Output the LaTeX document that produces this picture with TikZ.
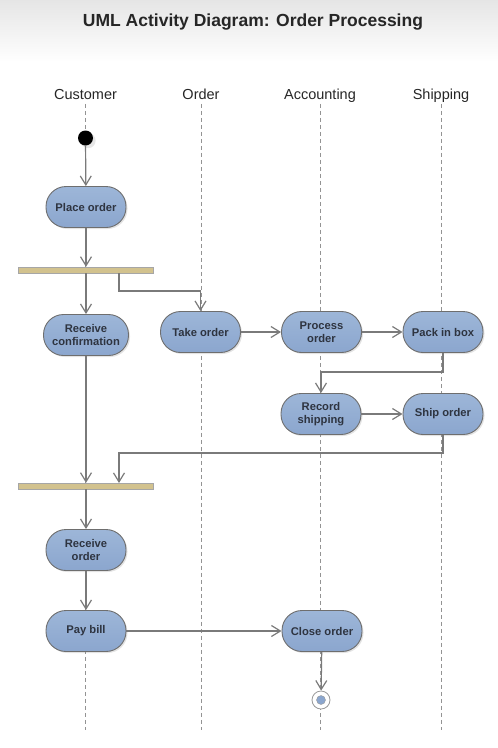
\documentclass[tikz,border=0pt]{standalone}
\usepackage{fontspec}
\setmainfont{Liberation Sans}
\usepackage{tikz}
\usetikzlibrary{arrows.meta, positioning, shadows, calc}
\definecolor{actblue}{RGB}{139, 166, 206}
\definecolor{actbluetop}{RGB}{157, 182, 216}
\definecolor{actedge}{RGB}{110, 110, 110}
\definecolor{flowgray}{RGB}{122, 122, 122}
\definecolor{bartan}{RGB}{210, 194, 142}
\definecolor{textdark}{RGB}{46, 52, 64}

\tikzset{
    action/.style={draw=actedge, line width=0.9pt, top color=actbluetop, bottom color=actblue,
        rounded corners=20pt, minimum width=80pt, minimum height=41pt, inner sep=2pt,
        align=center, text=textdark, font=\fontsize{11.2}{12.8}\selectfont\bfseries,
        drop shadow={opacity=0.22, shadow xshift=1.5pt, shadow yshift=-1.5pt}},
    syncbar/.style={draw=gray!70, fill=bartan, minimum width=135pt, minimum height=6pt, inner sep=0pt},
    lanelabel/.style={font=\fontsize{14.5}{16}\selectfont, text=black!85, inner sep=1.5pt,
        text height=10.5pt, text depth=3pt},
    lane/.style={draw=gray!85, line width=0.8pt, dash pattern=on 4pt off 3pt},
    flow/.style={draw=flowgray, line width=1.2pt, -{Straight Barb[length=9pt, width=11pt]}}
}

\begin{document}
\begin{tikzpicture}[x=1pt, y=-1pt]
\useasboundingbox (0,0) rectangle (498,748);
\fill[top color=gray!20, bottom color=white] (0,0) rectangle (498,62);

\node[font=\fontsize{17.5}{20}\selectfont\bfseries, text=black!85] (title) at (253,22) {UML Activity Diagram: Order Processing};

% swimlanes
\node[lanelabel] (customer) at (85.5,95.5) {Customer};
\node[lanelabel] (order) at (201,95.5) {Order};
\node[lanelabel] (accounting) at (320,95.5) {Accounting};
\node[lanelabel] (shipping) at (441,95.5) {Shipping};
\foreach \lanename in {customer, order, accounting, shipping}
    \draw[lane] (\lanename.south) -- (\lanename.south |- 0,730);

% activities
\node[circle, fill=black, minimum size=15pt, inner sep=0pt, drop shadow={opacity=0.2}] (start) at (85.5,138) {};
\node[action] (placeorder) at (86,207) {Place order};
\node[syncbar] (forkbar) at (85.5,270) {};
\node[action, minimum width=85pt] (receiveconf) at (86,335) {Receive\\confirmation};
\node[action] (takeorder) at (200.5,332) {Take order};
\node[action] (processorder) at (321.5,332) {Process\\order};
\node[action] (packbox) at (443,332) {Pack in box};
\node[action] (recordshipping) at (321,414) {Record\\shipping};
\node[action] (shiporder) at (443,414) {Ship order};
\node[syncbar] (joinbar) at (85.5,486) {};
\node[action] (receiveorder) at (86,550) {Receive\\order};
\node[action] (paybill) at (86,631) {Pay bill};
\node[action] (closeorder) at (322,631) {Close order};
\node[circle, draw=gray!80, line width=0.8pt, fill=white, minimum size=18pt, inner sep=0pt] (finish) at (321,700) {};
\node[circle, draw=gray!80, fill=actblue, minimum size=9pt, inner sep=0pt] (finishdot) at (finish) {};

\coordinate (forkout) at (119,273);
\coordinate (joinin) at (119,483);

% control flow
\draw[flow] (start) -- (placeorder);
\draw[flow] (placeorder) -- (placeorder |- forkbar.north);
\draw[flow] (receiveconf |- forkbar.south) -- (receiveconf);
\draw[flow] (forkout) -- ++(0,18) -| (takeorder);
\draw[flow] (takeorder) -- (processorder);
\draw[flow] (processorder) -- (packbox);
\draw[flow] (packbox.south) -- ++(0,19) -| (recordshipping);
\draw[flow] (recordshipping) -- (shiporder);
\draw[flow] (shiporder.south) -- ++(0,18) -| (joinin);
\draw[flow] (receiveconf) -- (receiveconf |- joinbar.north);
\draw[flow] (receiveorder |- joinbar.south) -- (receiveorder);
\draw[flow] (receiveorder) -- (paybill);
\draw[flow] (paybill) -- (closeorder);
\draw[flow] (closeorder) -- (finish);
\end{tikzpicture}
\end{document}
